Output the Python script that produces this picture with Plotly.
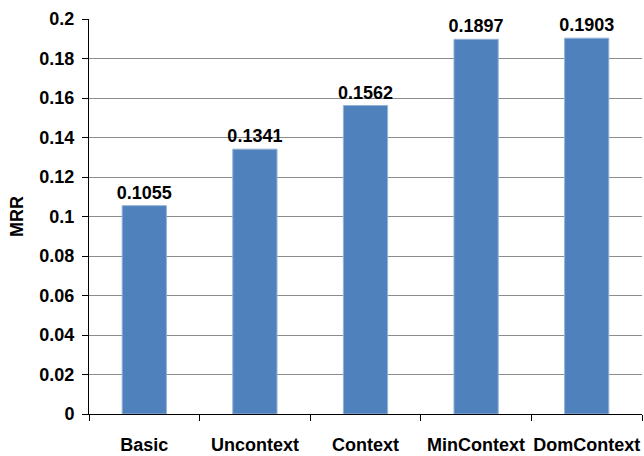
import plotly.graph_objects as go

# Mean reciprocal rank per retrieval variant
methods = ["Basic", "Uncontext", "Context", "MinContext", "DomContext"]
mrr = [0.1055, 0.1341, 0.1562, 0.1897, 0.1903]
y_ticks = [0, 0.02, 0.04, 0.06, 0.08, 0.1, 0.12, 0.14, 0.16, 0.18, 0.2]
y_tick_text = ["0", "0.02", "0.04", "0.06", "0.08", "0.1", "0.12", "0.14", "0.16", "0.18", "0.2"]

font = dict(family="Liberation Sans, Arial, sans-serif", size=18, color="black", weight="bold")

fig = go.Figure(
    go.Bar(
        x=methods,
        y=mrr,
        width=0.4,
        marker=dict(color="#4F81BD", line=dict(color="#95B3D7", width=1)),
        text=[f"{v:.4f}" for v in mrr],
        textposition="outside",
        textfont=font,
        constraintext="none",
        cliponaxis=False,
    )
)

fig.update_layout(
    width=644,
    height=456,
    margin=dict(l=89, r=2, t=19, b=42),
    paper_bgcolor="white",
    plot_bgcolor="white",
    showlegend=False,
    font=font,
)

fig.update_xaxes(
    showline=True,
    linecolor="black",
    linewidth=1,
    ticks="outside",
    tickson="boundaries",
    ticklen=6,
    tickcolor="black",
    showgrid=False,
    tickangle=0,
    ticklabelstandoff=14,
    automargin=False,
    tickfont=font,
)

fig.update_yaxes(
    range=[0, 0.2],
    tickvals=y_ticks,
    ticktext=y_tick_text,
    showline=True,
    linecolor="black",
    linewidth=1,
    ticks="outside",
    ticklen=6,
    tickcolor="black",
    showgrid=True,
    gridcolor="#8C8C8C",
    gridwidth=1,
    zeroline=False,
    ticklabelstandoff=4,
    automargin=False,
    tickfont=font,
    title=dict(text="MRR", font=font, standoff=11),
)

fig.write_html("out.html")
